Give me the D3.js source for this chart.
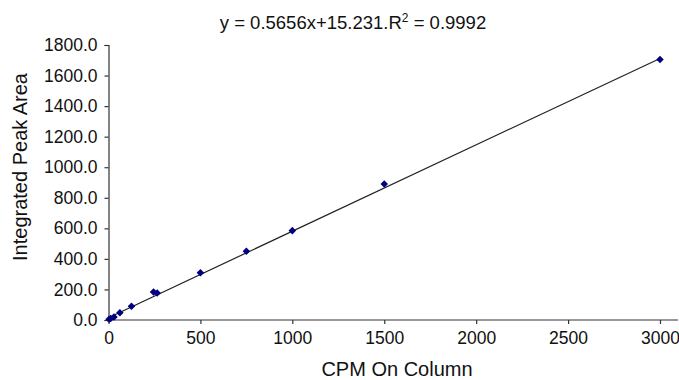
<!DOCTYPE html>
<html><head><meta charset="utf-8">
<script src="https://cdn.jsdelivr.net/npm/d3@7"></script>
<style>body{margin:0;background:#fff}svg{display:block}text{font-family:"Liberation Sans",Arial,sans-serif;fill:#111}</style>
</head><body><svg id="c" width="679" height="380"></svg>
<script>
const cpm  = [3, 12, 30, 62, 125, 245, 265, 500, 750, 1000, 1500, 3000];
const area = [5, 10, 20, 48, 90, 183, 176, 310, 450, 585, 890, 1705];
const slope = 0.5656, intercept = 15.231;
const xTicks = [0, 500, 1000, 1500, 2000, 2500, 3000];
const yTicks = [0, 200, 400, 600, 800, 1000, 1200, 1400, 1600, 1800];
const title = "y = 0.5656x+15.231.R";
const xLabel = "CPM On Column", yLabel = "Integrated Peak Area";

const svg = d3.select("#c");
const x = d3.scaleLinear().domain([0, 3000]).range([108.5, 660]);
const y = d3.scaleLinear().domain([0, 1800]).range([320, 45]);

const gx = svg.append("g").attr("transform", `translate(0,${y(0)})`)
  .call(d3.axisBottom(x).tickValues(xTicks).tickSize(4).tickPadding(8).tickFormat(d3.format("d")));
gx.select(".domain").attr("d", `M${x(0)},0H678`);
const gy = svg.append("g").attr("transform", `translate(${x(0)},0)`)
  .call(d3.axisLeft(y).tickValues(yTicks).tickSize(4).tickPadding(7).tickFormat(d3.format(".1f")));
[gx, gy].forEach(g => {
  g.selectAll("text").style("font-size", "17.5px").attr("fill", "#111");
  g.selectAll("line,path").attr("stroke", "#333").attr("stroke-width", 1.2);
});

svg.append("line")
  .attr("x1", x(0)).attr("y1", y(intercept))
  .attr("x2", x(3000)).attr("y2", y(slope * 3000 + intercept))
  .attr("stroke", "#222").attr("stroke-width", 1.2);

const sym = d3.symbol().type(d3.symbolDiamond2).size(36);
svg.append("g").selectAll("path").data(cpm).join("path")
  .attr("d", sym)
  .attr("transform", (d, i) => `translate(${x(d)},${y(area[i])})`)
  .attr("fill", "#000080");

const t = svg.append("text").attr("x", 353).attr("y", 29).attr("text-anchor", "middle").style("font-size", "18.5px");
t.append("tspan").text(title);
t.append("tspan").attr("dy", -7).style("font-size", "12px").text("2");
t.append("tspan").attr("dy", 7).text(" = 0.9992");

svg.append("text").attr("x", 397).attr("y", 376).attr("text-anchor", "middle").style("font-size", "20px").text(xLabel);
svg.append("text").attr("transform", "translate(27,167) rotate(-90)").attr("text-anchor", "middle").style("font-size", "20px").text(yLabel);
</script></body></html>
